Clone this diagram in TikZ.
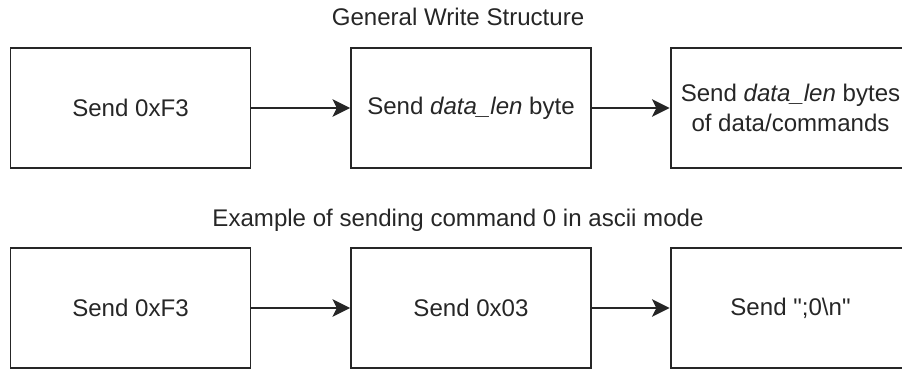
\documentclass[tikz,border=0pt]{standalone}
\usepackage{fontspec}
\setmainfont{Liberation Sans}[Ligatures=TeXOff]
\usetikzlibrary{arrows.meta}
\begin{document}
\begin{tikzpicture}[x=0.02cm, y=-0.02cm,
        every node/.style={font=\fontsize{13.7}{17}\selectfont, text=black!85},
        box/.style={draw=black!85, line width=1.1pt, minimum width=4.8cm, minimum height=2.4cm, inner sep=0pt, align=center},
        link/.style={draw=black!85, line width=1.1pt, -{Stealth[length=10pt, width=10pt, inset=2.5pt]}}]
        \useasboundingbox (0,0) rectangle (902,369);
        \clip (0,0) rectangle (902,369);
        \node (t1) at (458,17) {General Write Structure};
        \node[box] (1) at (130.5,108) {Send 0xF3};
        \node[box] (2) at (471,108) {Send \textit{data\_len} byte};
        \node[box] (3) at (790.5,108) {Send \textit{data\_len} bytes\\of data/commands};
        \node (t2) at (458,220) {Example of sending command 0 in ascii mode};
        \node[box] (4) at (130.5,308) {Send 0xF3};
        \node[box] (5) at (471,308) {Send 0x03};
        \node[box] (6) at (790.5,308) {Send ";0\textbackslash n"};
        \draw[link] (1) -- (2);
        \draw[link] (2) -- (3);
        \draw[link] (4) -- (5);
        \draw[link] (5) -- (6);
    \end{tikzpicture}
\end{document}
